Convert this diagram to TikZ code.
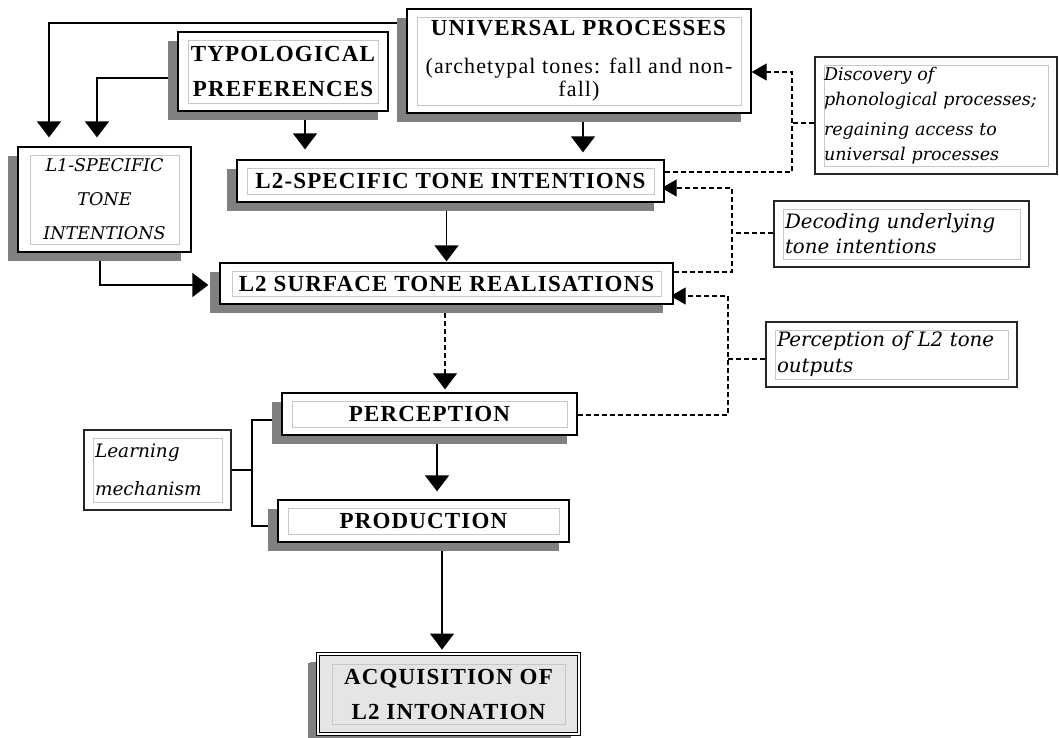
\documentclass[tikz,border=0pt]{standalone}
\usepackage{fontspec}
\setmainfont{Liberation Serif}
\newfontfamily\boxfont{Liberation Serif}[LetterSpace=5]
\newfontfamily\notefont{DejaVu Serif}
\usetikzlibrary{arrows.meta,shadows,calc,backgrounds}
\definecolor{shadowgray}{gray}{0.5}
\definecolor{framegray}{gray}{0.78}
\definecolor{acqfill}{gray}{0.9}
\pgfdeclarelayer{paper}
\pgfdeclarelayer{background}
\pgfsetlayers{paper,background,main}

\tikzset{
  innerframe/.style n args={2}{path picture={\draw[framegray, line width=0.8pt]
      ([shift={(#1,-#2)}]path picture bounding box.north west) rectangle
      ([shift={(-#1,#2)}]path picture bounding box.south east);}},
  box/.style={draw=black, line width=1.3pt, fill=white, inner sep=0pt, align=center,
    drop shadow={shadow xshift=-10pt, shadow yshift=-9pt, fill=shadowgray, opacity=1},
    innerframe={10pt}{8pt},
    font={\boxfont\bfseries\fontsize{23}{35}\selectfont}},
  note/.style={draw=black!85, line width=1.2pt, fill=white, inner ysep=0pt, inner xsep=11pt,
    align=left, innerframe={9pt}{8pt}},
  conn/.style={line width=1.3pt},
  tip/.style={-{Triangle[width=24pt,length=16pt]}},
  dsh/.style={line width=1.1pt, dash pattern=on 5pt off 3pt},
  dtip/.style={-{Triangle[width=17pt,length=15pt]}},
}

\begin{document}
\begin{tikzpicture}[x=1pt,y=-1pt]
\begin{pgfonlayer}{paper}
  \fill[white] (0,0) rectangle (1059,737);
\end{pgfonlayer}
\useasboundingbox (0,0) rectangle (1059,737);

% main chain
\node[box, minimum width=344pt, minimum height=104pt,
      font={\boxfont\fontsize{22}{23}\selectfont}] (univ) at (579,61)
  {\textbf{\fontsize{23}{23}\selectfont UNIVERSAL PROCESSES}\\[15pt]
   (archetypal tones: fall and non-\\fall)};
\node[box, minimum width=210pt, minimum height=79pt] (typo) at (283,71.5)
  {TYPOLOGICAL\\PREFERENCES};
\node[box, minimum width=173pt, minimum height=105pt, innerframe={12pt}{8pt},
      font={\notefont\itshape\fontsize{17.5}{34}\selectfont}] (l1) at (104.5,199.5)
  {L1-SPECIFIC\\TONE\\INTENTIONS};
\node[box, minimum width=427pt, minimum height=42pt] (l2spec) at (450.5,181)
  {L2-SPECIFIC TONE INTENTIONS};
\node[box, minimum width=453pt, minimum height=41pt, innerframe={12pt}{8pt}] (l2surf) at (446.5,283.5)
  {L2 SURFACE TONE REALISATIONS};
\node[box, minimum width=295pt, minimum height=42pt] (perc) at (429.5,414)
  {PERCEPTION};
\node[box, minimum width=291pt, minimum height=42pt] (prod) at (423.5,521)
  {PRODUCTION};
\node[box, minimum width=261pt, minimum height=80pt, fill=acqfill,
      double=white, double distance=1.6pt, line width=0.9pt, innerframe={14pt}{10pt},
      drop shadow={shadow xshift=-8pt, shadow yshift=-8pt, fill=shadowgray, opacity=1}]
  (acq) at (448.5,694) {ACQUISITION OF\\L2 INTONATION};

% side notes
\node[note, minimum height=80pt, text width=125pt,
      font={\notefont\itshape\fontsize{18.5}{38}\selectfont}] (learn) at (157.5,470)
  {Learning\\mechanism};
\node[note, minimum height=117pt, text width=224pt, inner xsep=9pt,
      font={\notefont\itshape\fontsize{17.5}{25}\selectfont}] (disc) at (936,115.5)
  {Discovery of\\phonological processes;\\[5pt]regaining access to\\universal processes};
\node[note, minimum height=66pt, text width=233pt,
      font={\notefont\itshape\fontsize{19.8}{25}\selectfont}] (dec) at (901.5,234)
  {Decoding underlying\\tone intentions};
\node[note, minimum height=65pt, text width=229pt,
      font={\notefont\itshape\fontsize{19.8}{26}\selectfont}] (pl2) at (891.5,354.5)
  {Perception of L2 tone\\outputs};

% connectors, kept beneath the boxes and their shadows
\begin{pgfonlayer}{background}
  \draw[conn,tip,shorten >=9pt] (univ.west |- 0,23) -| (49,0 |- l1.north);
  \draw[conn,tip,shorten >=9pt] (typo.west |- 0,78) -| (97,0 |- l1.north);
  \draw[conn,tip,shorten >=10pt] (305,0 |- typo.south) -- (305,0 |- l2spec.north);
  \draw[conn,tip,shorten >=7pt] (583,0 |- univ.south) -- (583,0 |- l2spec.north);
  \draw[conn,tip,shorten >=1pt] (l2surf.north |- l2spec.south) -- (l2surf.north);
  \draw[conn,tip,shorten >=11pt] (100,0 |- l1.south) |- (l2surf.west |- 0,285);
  \draw[dsh,tip,shorten >=3pt] (445,0 |- l2surf.south) -- (445,0 |- perc.north);
  \draw[conn,tip,shorten >=8pt] (437,0 |- perc.south) -- (437,0 |- prod.north);
  \draw[conn,tip,shorten >=4pt] (442,0 |- prod.south) -- (442,0 |- acq.north);

  \draw[conn] (learn.east) -- (252,0 |- learn.east);
  \draw[conn] (perc.west |- 0,420) -- (252,420) -- (252,526) -- (prod.west |- 0,526);

  \draw[dsh,dtip] (l2spec.east |- 0,172) -- (792,172) -- (792,72) -- (univ.east |- 0,72);
  \draw[dsh] (disc.west |- 0,123) -- (792,123);
  \draw[dsh,dtip,shorten >=-3pt] (l2surf.east |- 0,272) -- (732,272) -- (732,188) -- (l2spec.east |- 0,188);
  \draw[dsh] (dec.west |- 0,233) -- (732,233);
  \draw[dsh,dtip,shorten >=-3pt] (perc.east |- 0,415) -- (728,415) -- (728,296) -- (l2surf.east |- 0,296);
  \draw[dsh] (pl2.west |- 0,359) -- (728,359);
\end{pgfonlayer}
\end{tikzpicture}
\end{document}
